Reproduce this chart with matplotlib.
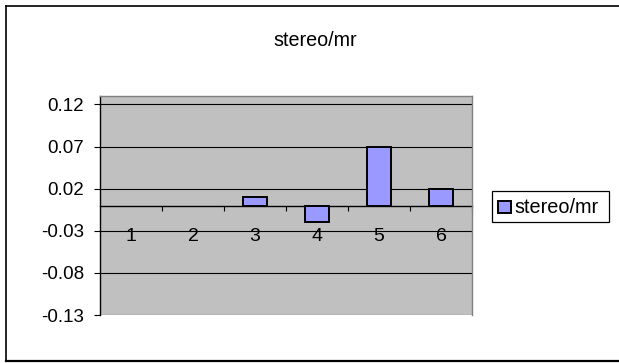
import matplotlib
matplotlib.use("Agg")
import matplotlib.pyplot as plt
from matplotlib.patches import Rectangle
from matplotlib.lines import Line2D
import matplotlib.transforms as mtransforms

categories = ["1", "2", "3", "4", "5", "6"]
values = [0.0, 0.0, 0.01, -0.02, 0.07, 0.02]
yticks = [-0.13, -0.08, -0.03, 0.02, 0.07, 0.12]
ytick_labels = ["-0.13", "-0.08", "-0.03", "0.02", "0.07", "0.12"]
series_name = "stereo/mr"
title = "stereo/mr"

plt.rcParams['font.family'] = ['Liberation Sans', 'DejaVu Sans']
W, H = 619, 363
fig = plt.figure(figsize=(W / 100, H / 100), dpi=100)

def fx(px):
    return px / W

def fy(py):
    return (H - py) / H

# outer chart border
fig.add_artist(Line2D([fx(5.5), fx(5.5)], [fy(5.5), fy(361)], color='black', lw=1.2, transform=fig.transFigure))
fig.add_artist(Line2D([fx(5.5), fx(640)], [fy(5.5), fy(5.5)], color='black', lw=1.2, transform=fig.transFigure))
fig.add_artist(Line2D([fx(5.5), fx(640)], [fy(361), fy(361)], color='black', lw=1.6, transform=fig.transFigure))

left, right, top, bottom = 100, 472, 96, 315
ax = fig.add_axes([fx(left), fy(bottom), fx(right - left), (bottom - top) / H])
ax.set_facecolor('#C0C0C0')

x = list(range(len(categories)))
lws = [1.4 if v != 0 else 0 for v in values]
ax.bar(x, values, width=0.4, color='#9999FF', edgecolor='black', linewidth=lws, zorder=3)

ax.set_xlim(-0.5, len(categories) - 0.5)
ax.set_ylim(-0.13, 0.13)
ax.set_yticks(yticks)
ax.set_yticklabels(ytick_labels, fontsize=13.5)
ax.tick_params(axis='y', length=4.5, width=0.8, pad=7, colors='black')
ax.yaxis.grid(True, color='black', linewidth=0.8, zorder=1)
ax.set_axisbelow(True)

for s in ['top', 'right']:
    ax.spines[s].set_color('#808080')
    ax.spines[s].set_linewidth(1.0)
ax.spines['left'].set_color('black')
ax.spines['left'].set_linewidth(1.0)
ax.spines['bottom'].set_position(('data', 0))
ax.spines['bottom'].set_color('black')
ax.spines['bottom'].set_linewidth(1.0)
ax.spines['bottom'].set_zorder(2)

# category boundary ticks on zero axis
ax.set_xticks([i + 0.5 for i in range(len(categories))])
ax.set_xticklabels([])
ax.tick_params(axis='x', direction='out', length=3.5, width=0.8, colors='black')

# category labels
trans = mtransforms.blended_transform_factory(ax.transData, ax.transAxes)
for xi, lab in zip(x, categories):
    ax.text(xi, (bottom - 240.7) / (bottom - top), lab, transform=trans,
            ha='center', va='baseline', fontsize=14, zorder=4)

# title
fig.text(fx(315), fy(46.3), title, ha='center', va='baseline', fontsize=14.2)

# legend
fig.add_artist(Rectangle((fx(491.7), fy(222.3)), fx(609.3 - 491.7), (222.3 - 191) / H,
                         transform=fig.transFigure, facecolor='white', edgecolor='black', lw=0.9))
fig.add_artist(Rectangle((fx(498), fy(213)), fx(12.5), 12.5 / H,
                         transform=fig.transFigure, facecolor='#9999FF', edgecolor='black', lw=1.4))
fig.text(fx(514.5), fy(213.3), series_name, ha='left', va='baseline', fontsize=14.3)

fig.savefig('out.png', dpi=100)
